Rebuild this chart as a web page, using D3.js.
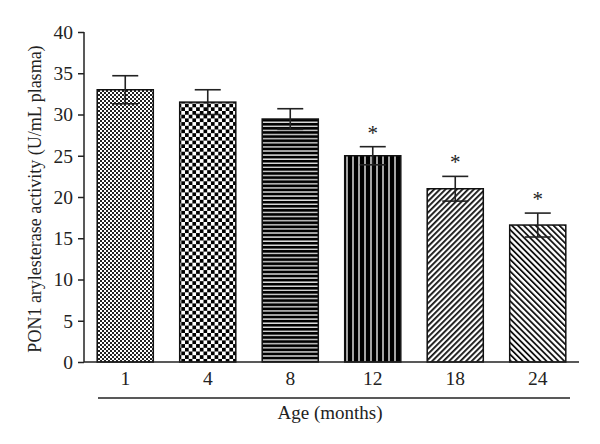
<!DOCTYPE html>
<html><head><meta charset="utf-8">
<script src="https://cdn.jsdelivr.net/npm/d3@7"></script>
<style>body{margin:0;background:#fff}svg{display:block}text{font-family:"Liberation Serif","Times New Roman",serif;fill:#222}</style>
</head><body>
<script>
const categories = ["1","4","8","12","18","24"];
const values = [33.0, 31.5, 29.45, 25.0, 21.0, 16.6];
const errors = [1.7, 1.5, 1.25, 1.1, 1.5, 1.45];
const significant = [false, false, false, true, true, true];
const yTicks = [0,5,10,15,20,25,30,35,40];
const patterns = ["finecheck","check","hstripe","vstripe","diagup","diagdown"];

const W=600,H=444;
const svg=d3.select("body").append("svg").attr("width",W).attr("height",H);
const defs=svg.append("defs");
function pat(id,w,h){return defs.append("pattern").attr("id",id).attr("patternUnits","userSpaceOnUse").attr("width",w).attr("height",h);}
let p=pat("finecheck",4,4);
p.append("rect").attr("width",4).attr("height",4).attr("fill","#fff");
p.append("rect").attr("width",2).attr("height",2).attr("fill","#222");
p.append("rect").attr("x",2).attr("y",2).attr("width",2).attr("height",2).attr("fill","#222");
p=pat("check",7.4,7.4);
p.append("rect").attr("width",7.4).attr("height",7.4).attr("fill","#fff");
p.append("rect").attr("width",3.7).attr("height",3.7).attr("fill","#000");
p.append("rect").attr("x",3.7).attr("y",3.7).attr("width",3.7).attr("height",3.7).attr("fill","#000");
p=pat("hstripe",4,4.1);
p.append("rect").attr("width",4).attr("height",4.1).attr("fill","#ddd");
p.append("rect").attr("width",4).attr("height",2.7).attr("fill","#000");
p=pat("vstripe",6,4);
p.append("rect").attr("width",6).attr("height",4).attr("fill","#000");
p.append("rect").attr("x",4.2).attr("width",1.6).attr("height",4).attr("fill","#ccc");
p=pat("diagup",4,4).attr("patternTransform","rotate(45)");
p.append("rect").attr("width",4).attr("height",4).attr("fill","#fff");
p.append("rect").attr("width",1.8).attr("height",4).attr("fill","#111");
p=pat("diagdown",4.2,4.2).attr("patternTransform","rotate(-45)");
p.append("rect").attr("width",4.2).attr("height",4.2).attr("fill","#fff");
p.append("rect").attr("width",1.8).attr("height",4.2).attr("fill","#111");

const x=d3.scaleBand().domain(categories).range([84,579]).paddingInner(0.32).paddingOuter(0.16);
const y=d3.scaleLinear().domain([0,40]).range([362,32]);

const g=svg.append("g");
g.selectAll("rect.bar").data(categories).join("rect").attr("class","bar")
 .attr("x",d=>x(d)).attr("width",x.bandwidth())
 .attr("y",(d,i)=>y(values[i])).attr("height",(d,i)=>y(0)-y(values[i]))
 .attr("fill",(d,i)=>`url(#${patterns[i]})`).attr("stroke","#111").attr("stroke-width",1.5);

const cap=13;
categories.forEach((c,i)=>{
  const cx=x(c)+x.bandwidth()/2;
  const e=g.append("g").attr("stroke","#222").attr("stroke-width",1.6);
  e.append("line").attr("x1",cx).attr("x2",cx).attr("y1",y(values[i]-errors[i])).attr("y2",y(values[i]+errors[i]));
  e.append("line").attr("x1",cx-cap).attr("x2",cx+cap).attr("y1",y(values[i]+errors[i])).attr("y2",y(values[i]+errors[i]));
  e.append("line").attr("x1",cx-cap).attr("x2",cx+cap).attr("y1",y(values[i]-errors[i])).attr("y2",y(values[i]-errors[i]));
  if(significant[i]) g.append("text").attr("x",cx).attr("y",y(values[i]+errors[i])-7).attr("text-anchor","middle").attr("font-size",21).text("*");
});

const ya=svg.append("g").attr("transform","translate(84,0)").call(d3.axisLeft(y).tickValues(yTicks).tickSize(6).tickPadding(5));
ya.select(".domain").attr("stroke","#222").attr("stroke-width",1.5).attr("d","M0,32V362");
ya.selectAll(".tick line").attr("stroke","#222").attr("stroke-width",1.5);
ya.selectAll(".tick text").attr("font-size",19.5).attr("font-family","Liberation Serif").attr("fill","#222");

const xa=svg.append("g").attr("transform","translate(0,362)").call(d3.axisBottom(x).tickSize(0).tickPadding(9));
xa.select(".domain").attr("stroke","#222").attr("stroke-width",1.5).attr("d","M84,0H579");
xa.selectAll(".tick text").attr("font-size",19.5).attr("font-family","Liberation Serif").attr("fill","#222");

svg.append("line").attr("x1",98).attr("x2",570).attr("y1",398).attr("y2",398).attr("stroke","#222").attr("stroke-width",1.5);
svg.append("text").attr("x",330).attr("y",419).attr("text-anchor","middle").attr("font-size",19).text("Age (months)");
svg.append("text").attr("transform","translate(41,199) rotate(-90)").attr("text-anchor","middle").attr("font-size",18).text("PON1 arylesterase activity (U/mL plasma)");
</script>
</body></html>
